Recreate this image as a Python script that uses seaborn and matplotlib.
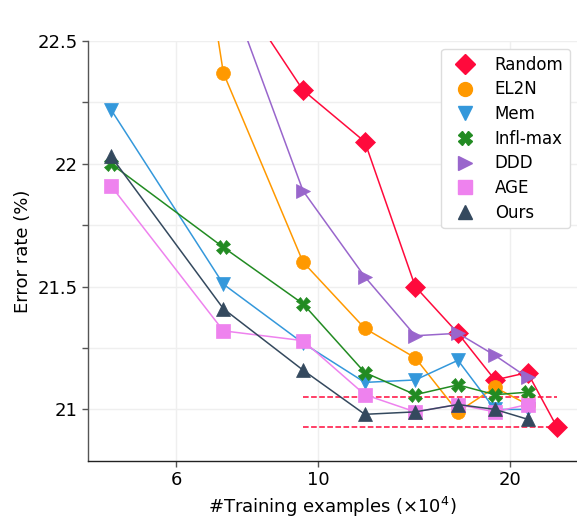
import numpy as np
import pandas as pd
import matplotlib
matplotlib.use("Agg")
import matplotlib.pyplot as plt
from matplotlib.lines import Line2D
from matplotlib.ticker import FixedLocator, NullLocator, FuncFormatter
import seaborn as sns

# x: number of training examples (x10^4)
x_full = [4.74, 7.11, 9.48, 11.85, 14.22, 16.59, 18.96, 21.33, 23.70]
x_main = x_full[:8]

random_err = [23.40, 22.79, 22.30, 22.09, 21.50, 21.31, 21.12, 21.15, 20.93]
el2n_err = [25.30, 22.37, 21.60, 21.33, 21.21, 20.99, 21.09, 21.02]
mem_err = [22.22, 21.51, 21.27, 21.11, 21.12, 21.20, 21.00, 21.00]
inflmax_err = [22.00, 21.66, 21.43, 21.15, 21.06, 21.10, 21.06, 21.07]
ddd_err = [23.50, 22.77, 21.89, 21.54, 21.30, 21.31, 21.22, 21.13]
age_err = [21.91, 21.32, 21.28, 21.06, 20.99, 21.02, 20.99, 21.02]
ours_err = [22.03, 21.41, 21.16, 20.98, 20.99, 21.02, 21.00, 20.96]

# dashed reference levels
ref_levels = [21.05, 20.93]
ref_span = [9.48, 23.70]

methods = ["Random", "EL2N", "Mem", "Infl-max", "DDD", "AGE", "Ours"]
series = [(x_full, random_err), (x_main, el2n_err), (x_main, mem_err),
          (x_main, inflmax_err), (x_main, ddd_err), (x_main, age_err),
          (x_main, ours_err)]
colors = ["#ff0a3c", "#ff9900", "#3498db", "#228b22", "#9966cc", "#ee82ee", "#34495e"]
markers = ["D", "o", "v", "X", ">", "s", "^"]
msizes = [10, 10, 10, 10, 10, 10, 10]


def main():
    sns.set_style("whitegrid")
    plt.rcParams["font.family"] = ["DejaVu Sans"]

    fig = plt.figure(figsize=(5.77, 5.2), dpi=100)
    ax = fig.add_axes([0.1525, 0.1135, 0.8475, 0.8075])

    for name, (xs, ys), c, m, s in zip(methods, series, colors, markers, msizes):
        df = pd.DataFrame({"x": xs, "y": ys})
        sns.lineplot(data=df, x="x", y="y", ax=ax, color=c, marker=m,
                     markersize=s, markeredgewidth=0.5, markeredgecolor=c,
                     linewidth=1.1, legend=False)

    for lv in ref_levels:
        ax.hlines(lv, ref_span[0], ref_span[1], colors="#ff0a3c",
                  linestyles="--", linewidth=1.1, zorder=1)

    ax.set_xscale("log")
    ax.set_xlim(4.36, 25.5)
    ax.set_ylim(20.79, 22.5)
    ax.xaxis.set_major_locator(FixedLocator([6, 10, 20]))
    ax.xaxis.set_minor_locator(NullLocator())
    ax.xaxis.set_major_formatter(FuncFormatter(lambda v, p: "%g" % v))
    ax.yaxis.set_major_locator(FixedLocator([21, 21.5, 22, 22.5]))
    ax.yaxis.set_minor_locator(FixedLocator([21.25, 21.75, 22.25]))
    ax.yaxis.set_major_formatter(FuncFormatter(lambda v, p: "%g" % v))

    ax.grid(True, which="both", color="#efefef", linewidth=1.0)
    ax.tick_params(axis="both", which="both", length=4, width=1,
                   color="#555555", labelsize=13, labelcolor="black",
                   left=True, bottom=True)
    for side in ["top", "right"]:
        ax.spines[side].set_visible(False)
    ax.spines["left"].set_color("#555555")
    ax.spines["bottom"].set_color("#222222")
    ax.spines["left"].set_linewidth(1.0)
    ax.spines["bottom"].set_linewidth(1.0)

    ax.set_xlabel("#Training examples (×10$^4$)", fontsize=13, color="black")
    ax.set_ylabel("Error rate (%)", fontsize=13, color="black")

    handles = [Line2D([], [], linestyle="none", marker=m, color=c,
                      markersize=s, markeredgecolor=c)
               for c, m, s in zip(colors, markers, msizes)]
    leg = ax.legend(handles, methods, loc="upper right", fontsize=12,
                    bbox_to_anchor=(0.986, 0.981), borderaxespad=0,
                    frameon=True, framealpha=1, edgecolor="#dddddd",
                    handletextpad=0.8, labelspacing=0.4)
    for t in leg.get_texts():
        t.set_color("black")

    fig.savefig("out.png", dpi=100)


if __name__ == "__main__":
    main()
